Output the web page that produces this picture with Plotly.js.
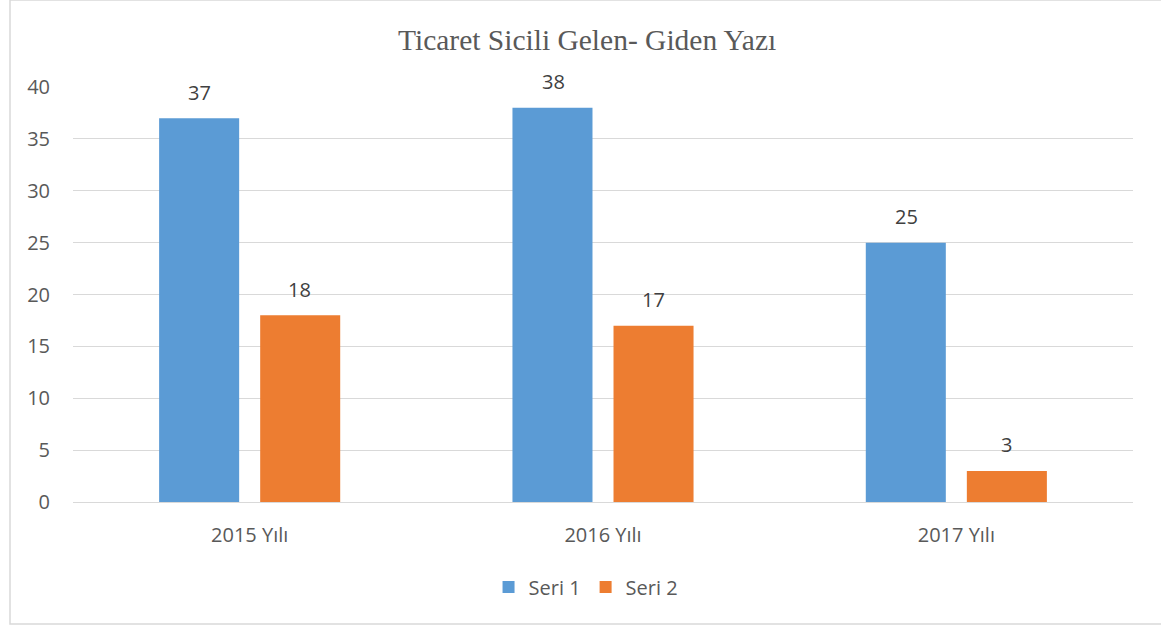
<!DOCTYPE html>
<html>
<head>
<meta charset="utf-8">
<script src="https://cdn.plot.ly/plotly-3.0.1.min.js"></script>
<style>html,body{margin:0;padding:0;background:#fff;}#chart{width:1161px;height:627px;}</style>
</head>
<body>
<div id="chart"></div>
<script>
const categories = ["2015 Yılı", "2016 Yılı", "2017 Yılı"];
const seri1 = [37, 38, 25];
const seri2 = [18, 17, 3];
const seriesNames = ["Seri 1", "Seri 2"];
const yTicks = [0, 5, 10, 15, 20, 25, 30, 35, 40];

const colors = ["#5B9BD5", "#ED7D31"];
const txtColor = "#595959";
const font = "'Open Sans', sans-serif";

const traces = [seri1, seri2].map((vals, i) => ({
  type: "bar",
  name: seriesNames[i],
  x: categories,
  y: vals,
  marker: {color: colors[i]},
  hoverinfo: "x+y+name"
}));

const annotations = [];
[seri1, seri2].forEach((vals, i) => {
  vals.forEach((v, j) => {
    annotations.push({
      x: categories[j], y: v, xref: "x", yref: "y",
      text: String(v), showarrow: false,
      xshift: i === 0 ? -50 : 50, yshift: 26, yanchor: "middle",
      font: {family: font, size: 20, color: "#404040"}
    });
  });
});

const L = 73, R = 28, T = 87, B = 125, W = 1161, H = 627;
const pw = W - L - R, ph = H - T - B;
const px = x => (x - L) / pw;
const py = y => (H - B - y) / ph;

const shapes = [
  {type: "rect", xref: "paper", yref: "paper", x0: px(10), x1: px(1170), y0: py(624), y1: py(0),
   line: {color: "#D9D9D9", width: 1.5}, fillcolor: "rgba(0,0,0,0)", layer: "below"}
];

const layout = {
  width: W, height: H,
  margin: {l: L, r: R, t: T, b: B},
  paper_bgcolor: "#fff", plot_bgcolor: "#fff",
  title: {text: "Ticaret Sicili Gelen- Giden Yazı", x: 0.485, xref: "paper", xanchor: "center",
          y: 1 - 40 / H, yref: "container", yanchor: "middle",
          font: {family: "'Liberation Serif', 'Times New Roman', serif", size: 29.5, color: txtColor}},
  barmode: "group", bargap: 0.428, bargroupgap: 0.208,
  xaxis: {type: "category", showgrid: false, showline: true, linecolor: "#D9D9D9", linewidth: 1,
          ticks: "", ticklabelstandoff: 15, tickfont: {family: font, size: 20, color: txtColor}, fixedrange: true},
  yaxis: {range: [0, 40], tickvals: yTicks, showgrid: true, gridcolor: "#D9D9D9", gridwidth: 1,
          zeroline: false, showline: false, ticks: "", ticklabelstandoff: 22,
          tickfont: {family: font, size: 20, color: txtColor}, fixedrange: true},
  legend: {orientation: "h", x: 0.484, xanchor: "center", y: py(587), yanchor: "middle",
           font: {family: font, size: 20, color: txtColor}, itemwidth: 30, traceorder: "normal"},
  annotations: annotations,
  shapes: shapes,
  showlegend: true
};

Plotly.newPlot("chart", traces, layout, {displayModeBar: false});
</script>
</body>
</html>
